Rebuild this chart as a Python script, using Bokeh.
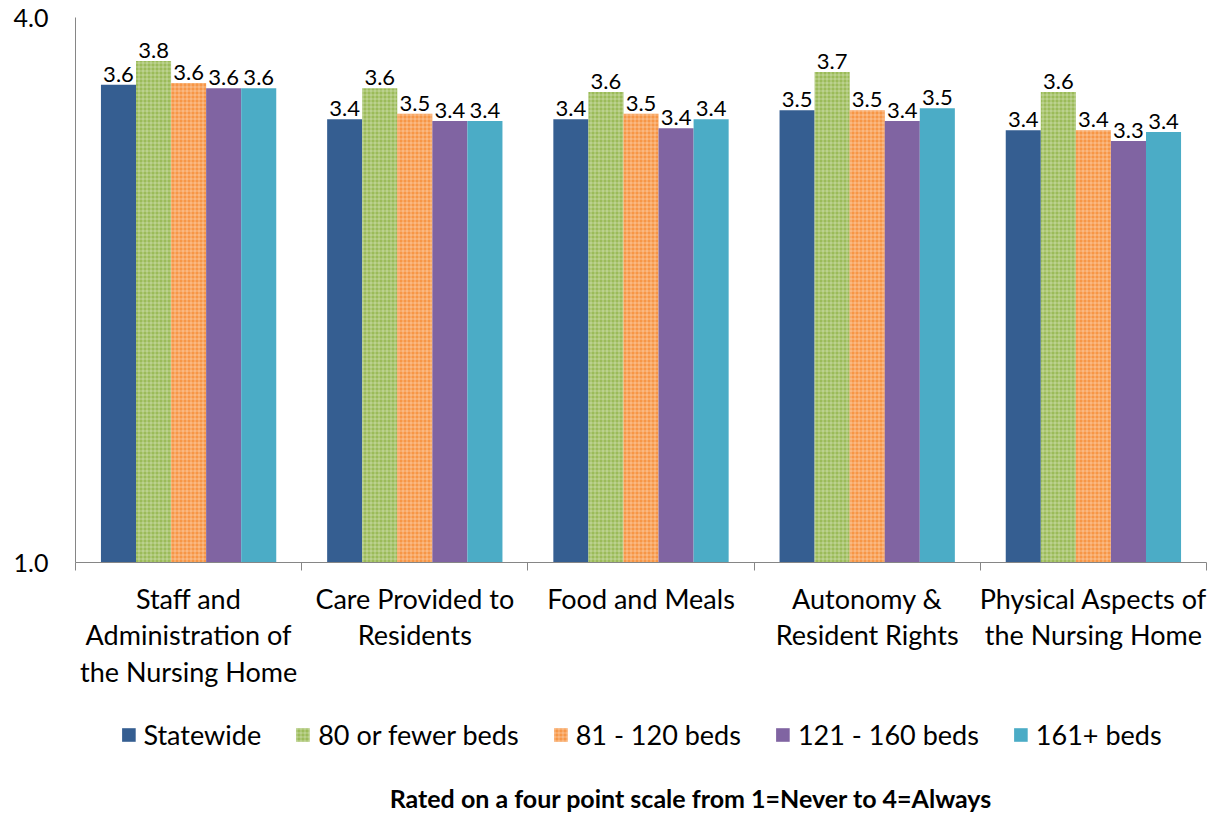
from bokeh.plotting import figure
from bokeh.layouts import column
from bokeh.models import Range1d, FixedTicker, Legend, LegendItem, ColumnDataSource, Label, PrintfTickFormatter
from bokeh.embed import file_html
from bokeh.resources import INLINE
from bokeh.core.properties import value

categories = ["Staff and\nAdministration of\nthe Nursing Home", "Care Provided to\nResidents",
              "Food and Meals", "Autonomy &\nResident Rights", "Physical Aspects of\nthe Nursing Home"]
series = ["Statewide", "80 or fewer beds", "81 - 120 beds", "121 - 160 beds", "161+ beds"]
statewide = [3.63, 3.44, 3.44, 3.49, 3.38]
beds_80_or_fewer = [3.76, 3.61, 3.59, 3.70, 3.59]
beds_81_120 = [3.64, 3.47, 3.47, 3.49, 3.38]
beds_121_160 = [3.61, 3.43, 3.39, 3.43, 3.32]
beds_161_plus = [3.61, 3.43, 3.44, 3.50, 3.37]
y_ticks = [1.0, 4.0]
note = "Rated on a four point scale from 1=Never to 4=Always"

values = [statewide, beds_80_or_fewer, beds_81_120, beds_121_160, beds_161_plus]
colors = ["#355E91", "#9BBB59", "#F79646", "#8064A2", "#4BACC6"]
hatches = [" ", "+", "+", " ", " "]
FONT = "Lato"

x_range = Range1d(0, len(categories))
p = figure(width=1211, height=705, output_backend="svg", toolbar_location=None,
           x_range=x_range, y_range=Range1d(y_ticks[0], y_ticks[-1]),
           min_border_left=75, min_border_right=5, min_border_top=17, min_border_bottom=143)
p.outline_line_color = None
p.xgrid.visible = False
p.ygrid.visible = False

# bottom strip for legend and note
q = figure(width=1211, height=110, output_backend="svg", toolbar_location=None,
           x_range=x_range, y_range=Range1d(0, 1), x_axis_location=None, y_axis_location=None,
           min_border_left=75, min_border_right=5, min_border_top=0, min_border_bottom=0)
q.outline_line_color = None
q.xgrid.visible = False
q.ygrid.visible = False

bw = 0.155
items = []
for j, (name, vals) in enumerate(zip(series, values)):
    xs = [i + 0.5 + (j - 2) * bw for i in range(len(categories))]
    src = ColumnDataSource(dict(x=xs, top=vals, lab=[f"{v:.1f}" for v in vals]))
    style = dict(fill_color=colors[j], line_color=None, hatch_pattern=hatches[j],
                 hatch_color="white", hatch_alpha=0.35, hatch_scale=4, hatch_weight=1)
    p.vbar(x="x", top="top", bottom=y_ticks[0], width=bw, source=src, **style)
    p.text(x="x", y="top", text="lab", source=src, text_align="center", text_baseline="bottom",
           y_offset=-3, text_font=value(FONT), text_font_size="22px", text_color="#000000")
    # same bars in the strip (they lie above its visible range) serve the legend
    r = q.vbar(x="x", top="top", bottom=y_ticks[0], width=bw, source=src, **style)
    items.append(LegendItem(label=name, renderers=[r]))

# y axis
p.yaxis.ticker = FixedTicker(ticks=y_ticks)
p.yaxis.formatter = PrintfTickFormatter(format="%.1f")
p.yaxis.major_tick_line_color = None
p.yaxis.major_tick_out = 0
p.yaxis.major_tick_in = 0
p.yaxis.minor_tick_line_color = None
p.yaxis.axis_line_color = "#868686"
p.yaxis.major_label_text_font = FONT
p.yaxis.major_label_text_font_size = "25px"
p.yaxis.major_label_text_color = "#000000"
p.yaxis.major_label_standoff = 27

# x axis
p.xaxis.ticker = FixedTicker(ticks=[i + 0.5 for i in range(len(categories))],
                             minor_ticks=list(range(len(categories) + 1)))
p.xaxis.major_label_overrides = {i + 0.5: c for i, c in enumerate(categories)}
p.xaxis.major_tick_line_color = None
p.xaxis.major_tick_out = 0
p.xaxis.major_tick_in = 0
p.xaxis.minor_tick_line_color = "#868686"
p.xaxis.minor_tick_in = 0
p.xaxis.minor_tick_out = 8
p.xaxis.axis_line_color = "#868686"
p.xaxis.major_label_text_font = FONT
p.xaxis.major_label_text_font_size = "27px"
p.xaxis.major_label_text_color = "#000000"
p.xaxis.major_label_text_line_height = 1.12
p.xaxis.major_label_standoff = 11

legend = Legend(items=items, orientation="horizontal", location="top_center",
                label_text_font=FONT, label_text_font_size="27px", label_text_color="#000000",
                glyph_width=17, glyph_height=17, label_standoff=7, spacing=33,
                border_line_color=None, background_fill_alpha=0, margin=13, padding=5)
q.add_layout(legend, "center")

q.add_layout(Label(x=len(categories) / 2, y=0.16, x_offset=50, text=note,
                   text_align="center", text_baseline="middle",
                   text_font=FONT, text_font_style="bold", text_font_size="25px",
                   text_color="#000000"))

layout = column(p, q, spacing=0)
open("out.html", "w").write(file_html(layout, INLINE))
